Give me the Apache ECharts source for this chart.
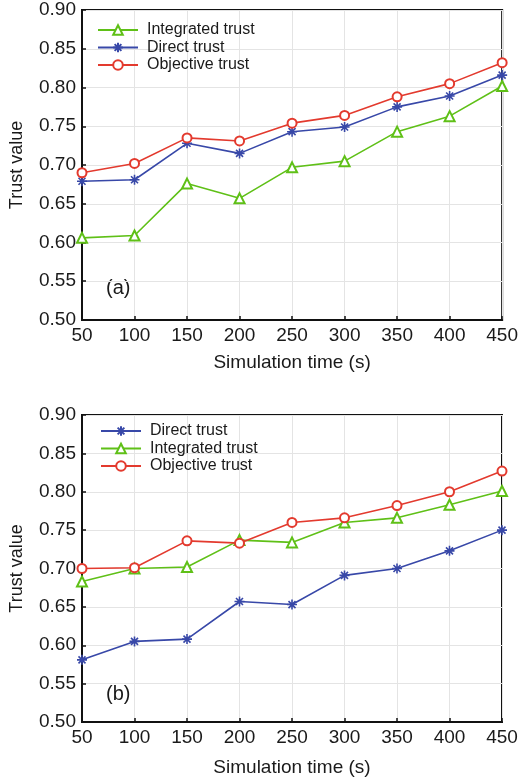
<!DOCTYPE html>
<html>
<head>
<meta charset="utf-8">
<script src="https://cdn.jsdelivr.net/npm/echarts@6/dist/echarts.min.js"></script>
<style>
html,body{margin:0;padding:0;background:#fff;}
#chart{width:521px;height:780px;}
</style>
</head>
<body>
<div id="chart"></div>
<script>
var xValues = [50, 100, 150, 200, 250, 300, 350, 400, 450];
var yTicks = ['0.50','0.55','0.60','0.65','0.70','0.75','0.80','0.85','0.90'];

// Panel (a)
var aIntegrated = [0.606, 0.609, 0.676, 0.657, 0.697, 0.705, 0.743, 0.763, 0.802];
var aDirect     = [0.679, 0.681, 0.728, 0.715, 0.743, 0.749, 0.775, 0.789, 0.816];
var aObjective  = [0.690, 0.702, 0.735, 0.731, 0.754, 0.764, 0.788, 0.805, 0.832];

// Panel (b)
var bDirect     = [0.581, 0.605, 0.608, 0.657, 0.653, 0.691, 0.700, 0.723, 0.750];
var bIntegrated = [0.683, 0.700, 0.702, 0.737, 0.734, 0.760, 0.766, 0.783, 0.801];
var bObjective  = [0.700, 0.701, 0.736, 0.733, 0.760, 0.766, 0.782, 0.800, 0.827];

var GREEN = '#5fc017', BLUE = '#3848a8', RED = '#e33a2e';
var FONT = 'Liberation Sans, Arial, sans-serif';
var ASTERISK = 'path://M0,-10L0,10M-10,0L10,0M-7,-7L7,7M-7,7L7,-7';

function pairs(arr){ return arr.map(function(v,i){ return [xValues[i], v]; }); }

function mkSeries(name, data, color, symbol, idx, size){
  return {
    name: name, type: 'line', xAxisIndex: idx, yAxisIndex: idx,
    data: pairs(data), symbol: symbol, symbolSize: size,
    lineStyle: {color: color, width: 1.6},
    itemStyle: {color: color, borderColor: color, borderWidth: 1.6},
    emphasis: {disabled: true}, animation: false, z: 3
  };
}
var seriesStyle = {
  'Integrated trust': [GREEN, 'emptyTriangle', 10],
  'Direct trust': [BLUE, ASTERISK, 10],
  'Objective trust': [RED, 'emptyCircle', 9]
};
function S(name, data, idx){
  var s = seriesStyle[name];
  return mkSeries(name, data, s[0], s[1], idx, s[2]);
}

function xAx(idx){
  return {
    type: 'value', gridIndex: idx, min: 50, max: 450, interval: 50,
    name: 'Simulation time (s)', nameLocation: 'middle', nameGap: idx === 0 ? 33 : 36,
    nameTextStyle: {fontSize: 19, color: '#1a1a1a', fontFamily: FONT},
    axisLine: {show: true, lineStyle: {color: '#111', width: 2}},
    axisTick: {show: true, inside: true, length: 4, lineStyle: {color: '#111', width: 1.5}},
    axisLabel: {fontSize: 19, color: '#1a1a1a', fontFamily: FONT, margin: 6,
      formatter: function(v){ return String(v); }},
    splitLine: {show: true, lineStyle: {color: '#e4e4e4', width: 1}}
  };
}
function yAx(idx){
  return {
    type: 'value', gridIndex: idx, min: 0.5, max: 0.9, interval: 0.05,
    name: 'Trust value', nameLocation: 'middle', nameGap: 56, nameRotate: 90,
    nameTextStyle: {fontSize: 18, color: '#1a1a1a', fontFamily: FONT},
    axisLine: {show: true, lineStyle: {color: '#111', width: 2}},
    axisTick: {show: true, inside: true, length: 4, lineStyle: {color: '#111', width: 1.5}},
    axisLabel: {fontSize: 19, color: '#1a1a1a', fontFamily: FONT, margin: 6,
      formatter: function(v){ return yTicks[Math.round((v - 0.5) / 0.05)]; }},
    splitLine: {show: true, lineStyle: {color: '#e4e4e4', width: 1}}
  };
}
function legendCfg(names, left, top){
  return {
    data: names, orient: 'vertical', left: left, top: top,
    itemWidth: 40, itemHeight: 12, itemGap: 1.5, selectedMode: false,
    textStyle: {fontSize: 16, color: '#1a1a1a', fontFamily: FONT, padding: [0,0,0,4]},
    padding: 0
  };
}

var chart = echarts.init(document.getElementById('chart'), null, {renderer: 'canvas'});
chart.setOption({
  backgroundColor: '#fff',
  animation: false,
  grid: [
    {left: 82, right: 15, top: 10, height: 310, show: true, borderColor: '#111', borderWidth: 2, backgroundColor: 'transparent'},
    {left: 82, right: 19, top: 415, height: 307, show: true, borderColor: '#111', borderWidth: 2, backgroundColor: 'transparent'}
  ],
  xAxis: [xAx(0), xAx(1)],
  yAxis: [yAx(0), yAx(1)],
  legend: [
    legendCfg(['Integrated trust', 'Direct trust', 'Objective trust'], 97, 22),
    legendCfg(['Direct trust', 'Integrated trust', 'Objective trust'], 100, 423)
  ],
  graphic: [
    {type: 'text', left: 106, top: 278, style: {text: '(a)', fontSize: 20, fill: '#1a1a1a', fontFamily: FONT}},
    {type: 'text', left: 106, top: 684, style: {text: '(b)', fontSize: 20, fill: '#1a1a1a', fontFamily: FONT}}
  ],
  series: [
    S('Integrated trust', aIntegrated, 0),
    S('Direct trust', aDirect, 0),
    S('Objective trust', aObjective, 0),
    S('Direct trust', bDirect, 1),
    S('Integrated trust', bIntegrated, 1),
    S('Objective trust', bObjective, 1)
  ]
});
</script>
</body>
</html>
